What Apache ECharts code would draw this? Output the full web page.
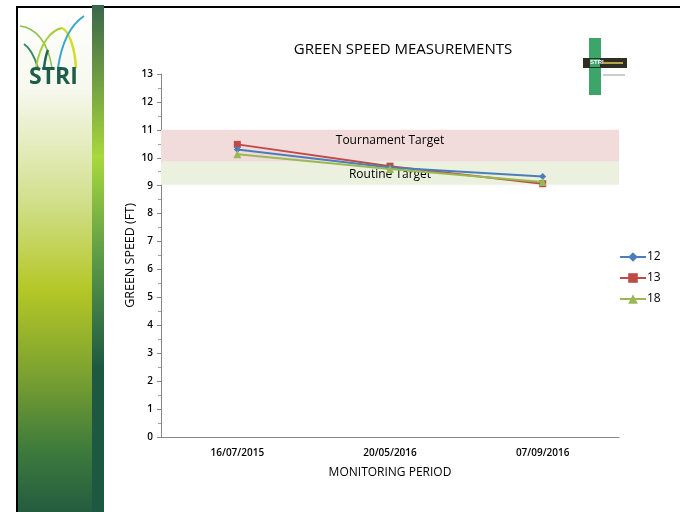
<!DOCTYPE html>
<html>
<head>
<meta charset="utf-8">
<script src="https://cdn.jsdelivr.net/npm/echarts@6/dist/echarts.min.js"></script>
<style>
  html, body { margin: 0; padding: 0; background: #fff; }
  #main { width: 680px; height: 512px; }
</style>
</head>
<body>
<div id="main"></div>
<script>
var periods = ['16/07/2015', '20/05/2016', '07/09/2016'];
var green12 = [10.3, 9.65, 9.33];
var green13 = [10.48, 9.7, 9.07];
var green18 = [10.13, 9.6, 9.13];
var tournamentBand = [9.86, 11];
var routineBand = [9.03, 9.86];

var myChart = echarts.init(document.getElementById('main'));
window.onresize = function () {
    myChart.resize();
};

var font = 'Open Sans';

var option = {
    backgroundColor: '#fff',
    animation: false,
    textStyle: { fontFamily: font },
    graphic: [
        // slide frame
        { type: 'rect', shape: { x: 16, y: 6, width: 664, height: 2 }, style: { fill: '#000' } },
        { type: 'rect', shape: { x: 16, y: 6, width: 2, height: 506 }, style: { fill: '#000' } },
        // left sidebar
        {
            type: 'rect', shape: { x: 18, y: 8, width: 74, height: 504 },
            style: {
                fill: new echarts.graphic.LinearGradient(0, 0, 0, 1, [
                    { offset: 0, color: '#ffffff' },
                    { offset: 0.16, color: '#f7f8ee' },
                    { offset: 0.38, color: '#d2e08e' },
                    { offset: 0.56, color: '#b4c726' },
                    { offset: 0.72, color: '#7ea330' },
                    { offset: 0.88, color: '#3d7a3c' },
                    { offset: 1, color: '#245c40' }
                ])
            }
        },
        {
            type: 'rect', shape: { x: 92, y: 5, width: 12, height: 507 },
            style: {
                fill: new echarts.graphic.LinearGradient(0, 0, 0, 1, [
                    { offset: 0, color: '#3b664a' },
                    { offset: 0.3, color: '#a7d83c' },
                    { offset: 0.5, color: '#5c9a48' },
                    { offset: 0.72, color: '#1c5842' },
                    { offset: 1, color: '#1c5842' }
                ])
            }
        },
        // STRI logo
        { type: 'bezierCurve', shape: { x1: 20, y1: 26, x2: 52, y2: 68, cpx1: 36, cpy1: 28, cpx2: 48, cpy2: 42 }, style: { stroke: '#8cc04a', lineWidth: 1.5, fill: null } },
        { type: 'bezierCurve', shape: { x1: 24, y1: 44, x2: 38, y2: 68, cpx1: 30, cpy1: 48, cpx2: 35, cpy2: 58 }, style: { stroke: '#3a8a6a', lineWidth: 2, fill: null } },
        { type: 'bezierCurve', shape: { x1: 36, y1: 68, x2: 62, y2: 28, cpx1: 40, cpy1: 42, cpx2: 52, cpy2: 30 }, style: { stroke: '#a8cc3a', lineWidth: 2, fill: null } },
        { type: 'bezierCurve', shape: { x1: 62, y1: 28, x2: 76, y2: 68, cpx1: 70, cpy1: 32, cpx2: 75, cpy2: 50 }, style: { stroke: '#d4de2a', lineWidth: 2.5, fill: null } },
        { type: 'bezierCurve', shape: { x1: 58, y1: 68, x2: 84, y2: 16, cpx1: 62, cpy1: 40, cpx2: 72, cpy2: 24 }, style: { stroke: '#3aa6c8', lineWidth: 2, fill: null } },
        { type: 'bezierCurve', shape: { x1: 44, y1: 68, x2: 48, y2: 50, cpx1: 45, cpy1: 60, cpx2: 46, cpy2: 54 }, style: { stroke: '#1d6a4a', lineWidth: 2.5, fill: null } },
        { type: 'text', left: 29, top: 66, style: { text: 'STRI', fill: '#1d5e48', font: 'bold 23px "Open Sans"' } },
        // programme logo top right
        { type: 'rect', shape: { x: 589, y: 38, width: 12, height: 57 }, style: { fill: '#3da46a' } },
        { type: 'rect', shape: { x: 583, y: 58, width: 44, height: 10 }, style: { fill: '#2e2e22' } },
        { type: 'rect', shape: { x: 590, y: 59, width: 10, height: 8 }, style: { fill: '#3da46a' } },
        { type: 'text', left: 590, top: 59, style: { text: 'STRI', fill: '#fff', font: 'bold 6px sans-serif' } },
        { type: 'rect', shape: { x: 603, y: 62, width: 20, height: 2 }, style: { fill: '#b9a24a' } },
        { type: 'rect', shape: { x: 603, y: 74, width: 22, height: 2 }, style: { fill: '#cccccc' } }
    ],
    title: {
        text: 'GREEN SPEED MEASUREMENTS',
        left: 398,
        textAlign: 'center',
        top: 37,
        textStyle: { fontFamily: font, fontSize: 15, fontWeight: 'normal', color: '#000' }
    },
    legend: {
        orient: 'vertical',
        left: 614,
        top: 246,
        itemGap: 9,
        itemWidth: 26,
        itemHeight: 12,
        textStyle: { fontFamily: font, fontSize: 12, color: '#000', padding: [0, 0, 0, -4] },
        data: ['12', '13', '18']
    },
    grid: { left: 161, right: 61, top: 74, bottom: 75, containLabel: false },
    xAxis: {
        type: 'category',
        data: periods,
        boundaryGap: true,
        name: 'MONITORING PERIOD',
        nameLocation: 'middle',
        nameGap: 30,
        nameMoveOverlap: false,
        nameTextStyle: { fontFamily: font, fontSize: 12, color: '#000' },
        axisLine: { lineStyle: { color: '#868686', width: 1 } },
        axisTick: { show: false },
        axisLabel: { fontFamily: font, fontSize: 10, fontWeight: 600, color: '#000', margin: 11 },
        splitLine: { show: false }
    },
    yAxis: {
        type: 'value',
        min: 0,
        max: 13,
        interval: 1,
        name: 'GREEN SPEED (FT)',
        nameLocation: 'middle',
        nameGap: 24,
        nameMoveOverlap: false,
        nameTextStyle: { fontFamily: font, fontSize: 12.5, color: '#000' },
        axisLine: { show: true, lineStyle: { color: '#868686', width: 1 } },
        axisTick: { show: true, inside: false, length: 4, lineStyle: { color: '#868686' } },
        minorTick: { show: true, splitNumber: 2, length: 3, lineStyle: { color: '#a0a0a0' } },
        axisLabel: { fontFamily: font, fontSize: 10, fontWeight: 600, color: '#000', margin: 8 },
        splitLine: { show: false }
    },
    series: [
        {
            name: '12',
            type: 'line',
            data: green12,
            symbol: 'diamond',
            symbolSize: 7,
            color: '#4a7ebb',
            lineStyle: { width: 2, color: '#4a7ebb' },
            itemStyle: { color: '#4a7ebb' },
            z: 4,
            markArea: {
                silent: true,
                data: [
                    [
                        {
                            yAxis: tournamentBand[0],
                            name: 'Tournament Target',
                            itemStyle: { color: '#f2dcdb' },
                            label: { position: 'inside', offset: [0, -5] }
                        },
                        { yAxis: tournamentBand[1] }
                    ],
                    [
                        {
                            yAxis: routineBand[0],
                            name: 'Routine Target',
                            itemStyle: { color: '#ebf1de' },
                            label: { position: 'inside', offset: [0, 1] }
                        },
                        { yAxis: routineBand[1] }
                    ]
                ],
                label: { fontFamily: font, fontSize: 12, color: '#000' },
                z: 1
            }
        },
        {
            name: '13',
            type: 'line',
            data: green13,
            symbol: 'rect',
            symbolSize: 7,
            color: '#be4b48',
            lineStyle: { width: 2, color: '#be4b48' },
            itemStyle: { color: '#be4b48' },
            z: 3
        },
        {
            name: '18',
            type: 'line',
            data: green18,
            symbol: 'triangle',
            symbolSize: 8,
            color: '#98b954',
            lineStyle: { width: 2, color: '#98b954' },
            itemStyle: { color: '#98b954' },
            z: 5
        }
    ]
};

myChart.setOption(option);
</script>
</body>
</html>
